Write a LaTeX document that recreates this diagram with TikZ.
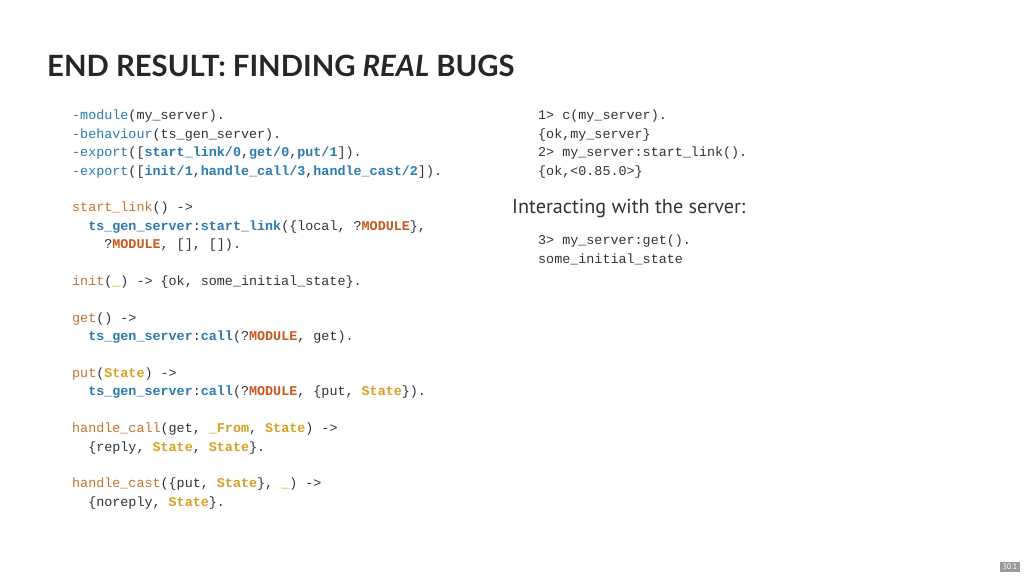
\documentclass[tikz,border=0pt]{standalone}
\usepackage{fontspec}
\setmainfont{PT Sans}
\setmonofont{Liberation Mono}
\newfontfamily\titlefont{Lato}
\usetikzlibrary{positioning}

\definecolor{txt}{HTML}{333333}
\definecolor{kwblue}{HTML}{2B7AB0}
\definecolor{fnorange}{HTML}{C4742F}
\definecolor{macred}{HTML}{C8591B}
\definecolor{vargold}{HTML}{D6A024}
\definecolor{pagegray}{HTML}{9A9A9A}

\newcommand{\kw}[1]{\textcolor{kwblue}{#1}}
\newcommand{\bkw}[1]{\textcolor{kwblue}{\bfseries #1}}
\newcommand{\fn}[1]{\textcolor{fnorange}{#1}}
\newcommand{\mac}[1]{\textcolor{macred}{\bfseries #1}}
\newcommand{\var}[1]{\textcolor{vargold}{\bfseries #1}}
\newcommand{\ind}{\phantom{xx}}

\tikzset{
  code/.style={anchor=north west, align=left, inner sep=0pt, text=txt,
    font=\ttfamily\fontsize{13.4}{18.4}\selectfont},
  heading/.style={anchor=base west, inner sep=0pt, text=black!85,
    font=\titlefont\bfseries\fontsize{29.3}{34}\selectfont},
  label/.style={anchor=base west, inner sep=0pt, text=txt,
    font=\fontsize{20.2}{24}\selectfont}
}

\begin{document}
\begin{tikzpicture}[x=1pt,y=-1pt]
\useasboundingbox[fill=white] (0,0) rectangle (1024,576);

% title
\node[heading] (title) at (47,76) {END RESULT: FINDING \textit{REAL} BUGS};

% module source
\node[code] (src) at (72,110) {%
\kw{-module}(my\_server).\\
\kw{-behaviour}(ts\_gen\_server).\\
\kw{-export}([\bkw{start\_link/0},\bkw{get/0},\bkw{put/1}]).\\
\kw{-export}([\bkw{init/1},\bkw{handle\_call/3},\bkw{handle\_cast/2}]).\\
~\\
\fn{start\_link}() ->\\
\ind\bkw{ts\_gen\_server}:\bkw{start\_link}(\{local, ?\mac{MODULE}\},\\
\ind\ind?\mac{MODULE}, [], []).\\
~\\
\fn{init}(\var{\_}) -> \{ok, some\_initial\_state\}.\\
~\\
\fn{get}() ->\\
\ind\bkw{ts\_gen\_server}:\bkw{call}(?\mac{MODULE}, get).\\
~\\
\fn{put}(\var{State}) ->\\
\ind\bkw{ts\_gen\_server}:\bkw{call}(?\mac{MODULE}, \{put, \var{State}\}).\\
~\\
\fn{handle\_call}(get, \var{\_From}, \var{State}) ->\\
\ind\{reply, \var{State}, \var{State}\}.\\
~\\
\fn{handle\_cast}(\{put, \var{State}\}, \var{\_}) ->\\
\ind\{noreply, \var{State}\}.};

% shell session
\node[code] (shell) at (538,110) {%
1> c(my\_server).\\
\{ok,my\_server\}\\
2> my\_server:start\_link().\\
\{ok,<0.85.0>\}};

\node[label] (interact) at (512,213) {Interacting with the server:};

\node[code] (shell2) at (538,235) {%
3> my\_server:get().\\
some\_initial\_state};

% slide number
\node[fill=pagegray, text=white, inner xsep=2.5pt, inner ysep=2pt,
  font=\fontsize{8}{9}\selectfont, anchor=south east] (page) at (1020,572) {30.1};
\end{tikzpicture}
\end{document}
